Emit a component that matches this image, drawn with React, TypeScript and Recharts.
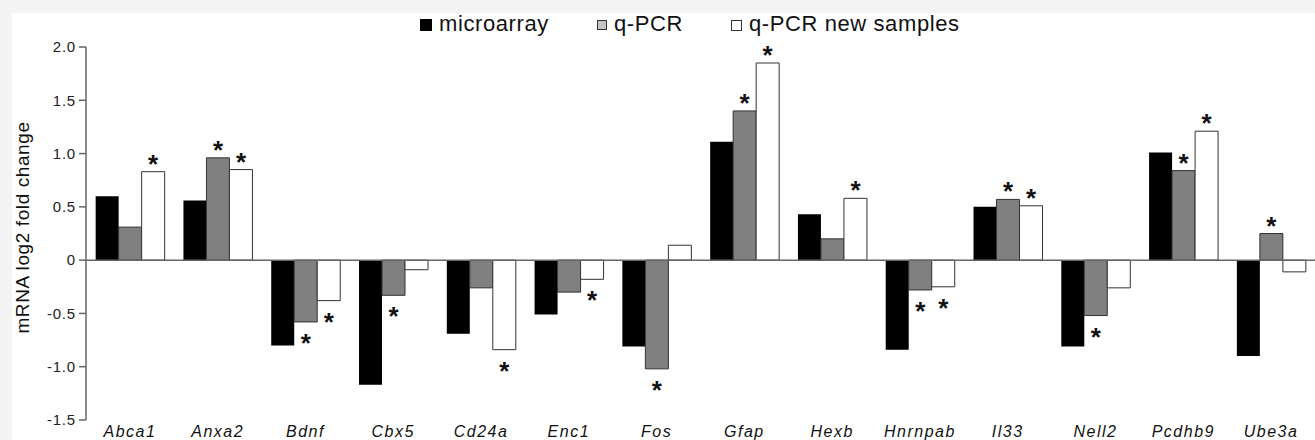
import React from 'react';
import { BarChart, Bar, XAxis, YAxis, ReferenceLine, LabelList } from 'recharts';

const categories = ['Abca1', 'Anxa2', 'Bdnf', 'Cbx5', 'Cd24a', 'Enc1', 'Fos', 'Gfap', 'Hexb', 'Hnrnpab', 'Il33', 'Nell2', 'Pcdhb9', 'Ube3a'];
const microarray = [0.6, 0.56, -0.8, -1.17, -0.69, -0.51, -0.81, 1.11, 0.43, -0.84, 0.5, -0.81, 1.01, -0.9];
const qpcr = [0.31, 0.96, -0.58, -0.33, -0.26, -0.3, -1.02, 1.4, 0.2, -0.28, 0.57, -0.52, 0.84, 0.25];
const qpcrNew = [0.83, 0.85, -0.38, -0.09, -0.84, -0.18, 0.14, 1.85, 0.58, -0.25, 0.51, -0.26, 1.21, -0.11];
const qpcrSig = [false, true, true, true, false, false, true, true, false, true, true, true, true, true];
const qpcrNewSig = [true, true, true, false, true, true, false, true, true, true, true, false, true, false];
const yTicks = [-1.5, -1, -0.5, 0, 0.5, 1, 1.5, 2];

const data = categories.map((cat, i) => ({
    cat,
    microarray: microarray[i],
    qpcr: qpcr[i],
    qpcrNew: qpcrNew[i],
}));

// asterisk above positive bars, below negative ones
const starLabel = (sig: boolean[]) => (props: any) => {
    const { x, y, width, height, index, value } = props;
    if (!sig[index]) return null;
    const top = Math.min(y, y + height);
    const bottom = Math.max(y, y + height);
    const ty = value >= 0 ? top + 1 : bottom + 30;
    return (
        <text x={x + width / 2} y={ty} textAnchor="middle" fontSize={26} fontWeight="bold" fill="#111">
            *
        </text>
    );
};

const legendItems = [
    { label: 'microarray', fill: '#000', border: '#000', size: 12 },
    { label: 'q-PCR', fill: '#c4c4c4', border: '#333', size: 10 },
    { label: 'q-PCR new samples', fill: '#fff', border: '#333', size: 11 },
];

export default function App() {
    return (
        <div style={{ position: 'absolute', left: 0, top: 0, width: 1315, height: 440, background: '#f4f4f4', fontFamily: 'Arial, "Liberation Sans", sans-serif' }}>
            <div style={{ position: 'absolute', left: 12, top: 13, right: 0, bottom: 0, background: '#fff' }} />
            <div style={{ position: 'absolute', left: 420, top: 11, display: 'flex', alignItems: 'center', gap: 48, fontSize: 22, lineHeight: '25px', color: '#111', letterSpacing: 0.6 }}>
                {legendItems.map((it) => (
                    <div key={it.label} style={{ display: 'flex', alignItems: 'center', gap: 7 }}>
                        <span style={{ display: 'inline-block', width: it.size, height: it.size, background: it.fill, border: `1.5px solid ${it.border}`, boxSizing: 'border-box', marginTop: 3 }} />
                        <span>{it.label}</span>
                    </div>
                ))}
            </div>
            <div style={{ position: 'absolute', left: 0, top: 0 }}>
                <BarChart width={1315} height={440} data={data} margin={{ top: 47, right: 0, bottom: 0, left: 0 }} barCategoryGap="11%" barGap={0}>
                    <XAxis
                        dataKey="cat"
                        axisLine={false}
                        tickLine={false}
                        height={20}
                        tickSize={4}
                        interval={0}
                        tick={{ fontSize: 16, fontStyle: 'italic', fill: '#111', letterSpacing: 1.5 }}
                    />
                    <YAxis
                        width={86}
                        domain={[-1.5, 2]}
                        ticks={yTicks}
                        interval={0}
                        tickSize={7}
                        tickMargin={3}
                        axisLine={{ stroke: '#666', strokeWidth: 1.5 }}
                        tickLine={{ stroke: '#666', strokeWidth: 1.5 }}
                        tick={{ fontSize: 15, fill: '#222', letterSpacing: 0.8 }}
                        tickFormatter={(v: number) => (v === 0 ? '0' : v.toFixed(1))}
                        label={{ value: 'mRNA log2 fold change', angle: -90, position: 'insideLeft', offset: 0, dx: 22, dy: -6, style: { fontSize: 19, fill: '#111', letterSpacing: 0.6, textAnchor: 'middle' } }}
                    />
                    <Bar dataKey="microarray" fill="#000" isAnimationActive={false} />
                    <Bar dataKey="qpcr" fill="#808080" stroke="#333" strokeWidth={1} isAnimationActive={false}>
                        <LabelList dataKey="qpcr" content={starLabel(qpcrSig)} />
                    </Bar>
                    <Bar dataKey="qpcrNew" fill="#fff" stroke="#333" strokeWidth={1} isAnimationActive={false}>
                        <LabelList dataKey="qpcrNew" content={starLabel(qpcrNewSig)} />
                    </Bar>
                    <ReferenceLine y={0} stroke="#666" strokeWidth={1.5} />
                </BarChart>
            </div>
        </div>
    );
}
